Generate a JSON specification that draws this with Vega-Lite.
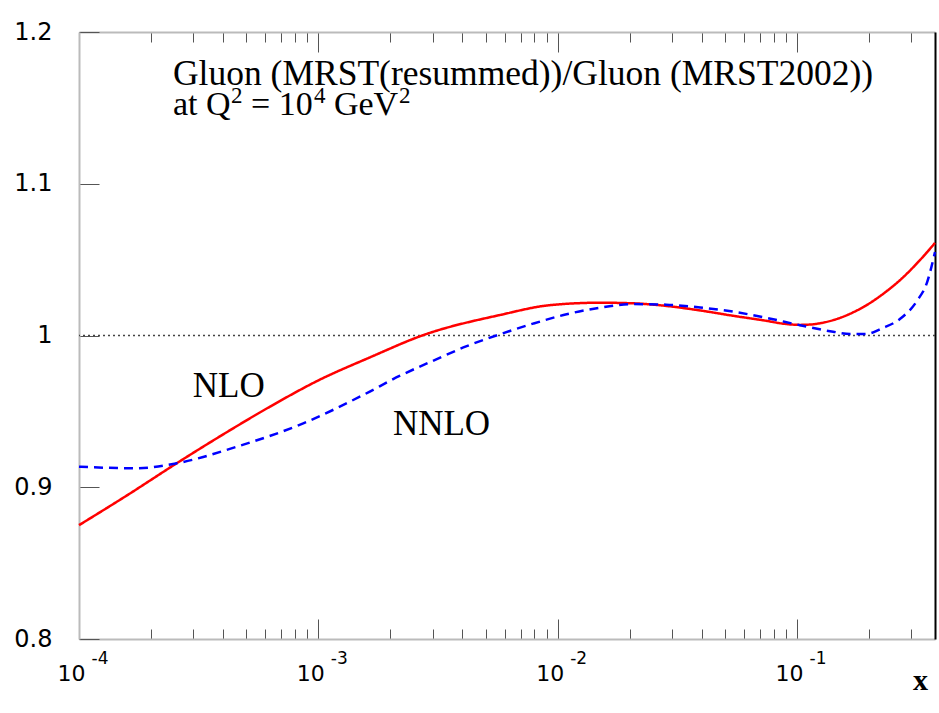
{
  "$schema": "https://vega.github.io/schema/vega-lite/v6.json",
  "width": 856,
  "height": 607,
  "autosize": {"type": "none"},
  "padding": {"left": 79, "top": 32, "right": 4, "bottom": 74},
  "background": "white",
  "config": {"view": {"stroke": null}},
  "datasets": {
    "curves": [
      {"series": "NLO", "xv": 0.0001, "ratio": 0.875},
      {"series": "NLO", "xv": 0.00016, "ratio": 0.895},
      {"series": "NLO", "xv": 0.000256, "ratio": 0.9158},
      {"series": "NLO", "xv": 0.0004, "ratio": 0.9348},
      {"series": "NLO", "xv": 0.000628, "ratio": 0.9531},
      {"series": "NLO", "xv": 0.001, "ratio": 0.9704},
      {"series": "NLO", "xv": 0.001644, "ratio": 0.9856},
      {"series": "NLO", "xv": 0.00275, "ratio": 1.0003},
      {"series": "NLO", "xv": 0.00574, "ratio": 1.0135},
      {"series": "NLO", "xv": 0.00929, "ratio": 1.020},
      {"series": "NLO", "xv": 0.015, "ratio": 1.0216},
      {"series": "NLO", "xv": 0.0207, "ratio": 1.0212},
      {"series": "NLO", "xv": 0.0284, "ratio": 1.0195},
      {"series": "NLO", "xv": 0.0394, "ratio": 1.0165},
      {"series": "NLO", "xv": 0.0541, "ratio": 1.0130},
      {"series": "NLO", "xv": 0.0743, "ratio": 1.0097},
      {"series": "NLO", "xv": 0.0876, "ratio": 1.0078},
      {"series": "NLO", "xv": 0.103, "ratio": 1.0070},
      {"series": "NLO", "xv": 0.113, "ratio": 1.0072},
      {"series": "NLO", "xv": 0.125, "ratio": 1.0081},
      {"series": "NLO", "xv": 0.1416, "ratio": 1.0101},
      {"series": "NLO", "xv": 0.1714, "ratio": 1.0152},
      {"series": "NLO", "xv": 0.1963, "ratio": 1.0202},
      {"series": "NLO", "xv": 0.237, "ratio": 1.0292},
      {"series": "NLO", "xv": 0.27, "ratio": 1.0366},
      {"series": "NLO", "xv": 0.3266, "ratio": 1.0497},
      {"series": "NLO", "xv": 0.3774, "ratio": 1.061},
      {"series": "NNLO", "xv": 0.0001, "ratio": 0.9135},
      {"series": "NNLO", "xv": 0.000174, "ratio": 0.9125},
      {"series": "NNLO", "xv": 0.000256, "ratio": 0.9158},
      {"series": "NNLO", "xv": 0.000456, "ratio": 0.9267},
      {"series": "NNLO", "xv": 0.000865, "ratio": 0.9421},
      {"series": "NNLO", "xv": 0.00154, "ratio": 0.9608},
      {"series": "NNLO", "xv": 0.002195, "ratio": 0.9735},
      {"series": "NNLO", "xv": 0.00303, "ratio": 0.9835},
      {"series": "NNLO", "xv": 0.004143, "ratio": 0.9928},
      {"series": "NNLO", "xv": 0.00574, "ratio": 1.0008},
      {"series": "NNLO", "xv": 0.00789, "ratio": 1.0078},
      {"series": "NNLO", "xv": 0.0109, "ratio": 1.0140},
      {"series": "NNLO", "xv": 0.01503, "ratio": 1.0183},
      {"series": "NNLO", "xv": 0.0207, "ratio": 1.0207},
      {"series": "NNLO", "xv": 0.0284, "ratio": 1.0203},
      {"series": "NNLO", "xv": 0.0394, "ratio": 1.0185},
      {"series": "NNLO", "xv": 0.0541, "ratio": 1.0157},
      {"series": "NNLO", "xv": 0.0743, "ratio": 1.0117},
      {"series": "NNLO", "xv": 0.103, "ratio": 1.0068},
      {"series": "NNLO", "xv": 0.1416, "ratio": 1.0025},
      {"series": "NNLO", "xv": 0.1667, "ratio": 1.0010},
      {"series": "NNLO", "xv": 0.1937, "ratio": 1.0010},
      {"series": "NNLO", "xv": 0.229, "ratio": 1.0050},
      {"series": "NNLO", "xv": 0.27, "ratio": 1.0110},
      {"series": "NNLO", "xv": 0.318, "ratio": 1.0230},
      {"series": "NNLO", "xv": 0.3497, "ratio": 1.0350},
      {"series": "NNLO", "xv": 0.3774, "ratio": 1.055}
    ],
    "decades": [
      {"xv": 0.0001, "e": "-4"},
      {"xv": 0.001, "e": "-3"},
      {"xv": 0.01, "e": "-2"},
      {"xv": 0.1, "e": "-1"}
    ]
  },
  "resolve": {"axis": {"x": "independent", "y": "independent"}},
  "layer": [
    {
      "data": {"values": [{}]},
      "mark": {"type": "rule", "strokeDash": [2, 3], "color": "#444444", "strokeWidth": 1.5},
      "encoding": {"y": {"datum": 1, "type": "quantitative", "axis": null}}
    },
    {
      "data": {"name": "curves"},
      "mark": {"type": "line", "strokeWidth": 2.5, "interpolate": "monotone"},
      "encoding": {
        "x": {
          "field": "xv", "type": "quantitative",
          "scale": {"type": "log", "domain": [0.0001, 0.3774], "nice": false},
          "axis": {
            "orient": "bottom", "title": null, "grid": false,
            "values": [0.0001, 0.0002, 0.0003, 0.0004, 0.0005, 0.0006, 0.0007, 0.0008, 0.0009, 0.001, 0.002, 0.003, 0.004, 0.005, 0.006, 0.007, 0.008, 0.009, 0.01, 0.02, 0.03, 0.04, 0.05, 0.06, 0.07, 0.08, 0.09, 0.1, 0.2, 0.3],
            "labelExpr": "indexof([0.0001, 0.001, 0.01, 0.1], datum.value) >= 0 ? '10' : ''",
            "tickSize": {"condition": {"test": "indexof([0.0001, 0.001, 0.01, 0.1], datum.value) >= 0", "value": -20}, "value": -10},
            "tickColor": "#555555", "tickWidth": 1,
            "domainColor": "#bbbbbb", "domainWidth": 2,
            "labelFont": "DejaVu Sans", "labelFontSize": 22, "labelColor": "black",
            "labelPadding": 44, "labelOffset": -8, "labelFlush": false, "labelOverlap": false
          }
        },
        "y": {
          "field": "ratio", "type": "quantitative",
          "scale": {"domain": [0.8, 1.2], "nice": false, "zero": false},
          "axis": {
            "orient": "left", "title": null, "grid": false,
            "values": [0.8, 0.9, 1.0, 1.1, 1.2],
            "format": ".1~f",
            "tickSize": -20, "tickColor": "#555555", "tickWidth": 1,
            "domainColor": "#bbbbbb", "domainWidth": 2,
            "labelFont": "DejaVu Sans", "labelFontSize": 24, "labelColor": "black",
            "labelPadding": 47, "labelFlush": false, "labelOverlap": false
          }
        },
        "color": {"field": "series", "type": "nominal", "scale": {"domain": ["NLO", "NNLO"], "range": ["#ff0000", "#0000ff"]}, "legend": null},
        "strokeDash": {"field": "series", "type": "nominal", "scale": {"domain": ["NLO", "NNLO"], "range": [[1, 0], [9, 6]]}, "legend": null}
      }
    },
    {
      "data": {"name": "decades"},
      "mark": {"type": "text", "font": "DejaVu Sans", "fontSize": 17, "align": "center", "baseline": "middle", "dx": 21, "dy": 20, "color": "black"},
      "encoding": {
        "x": {
          "field": "xv", "type": "quantitative",
          "axis": {
            "orient": "top", "title": null, "grid": false, "labels": false,
            "values": [0.0001, 0.0002, 0.0003, 0.0004, 0.0005, 0.0006, 0.0007, 0.0008, 0.0009, 0.001, 0.002, 0.003, 0.004, 0.005, 0.006, 0.007, 0.008, 0.009, 0.01, 0.02, 0.03, 0.04, 0.05, 0.06, 0.07, 0.08, 0.09, 0.1, 0.2, 0.3],
            "tickSize": {"condition": {"test": "indexof([0.0001, 0.001, 0.01, 0.1], datum.value) >= 0", "value": -20}, "value": -10},
            "tickColor": "#555555", "tickWidth": 1,
            "domainColor": "#bbbbbb", "domainWidth": 2
          }
        },
        "y": {
          "datum": 0.8, "type": "quantitative",
          "axis": {"orient": "right", "title": null, "grid": false, "labels": false, "ticks": false, "domainColor": "black", "domainWidth": 2}
        },
        "text": {"field": "e"}
      }
    },
    {
      "data": {"values": [{}]},
      "layer": [
        {"mark": {"type": "text", "font": "Liberation Serif", "fontSize": 35.5, "align": "left", "baseline": "alphabetic", "color": "black", "text": "Gluon (MRST(resummed))/Gluon (MRST2002))"},
         "encoding": {"x": {"datum": 0.000247, "type": "quantitative", "axis": null}, "y": {"datum": 1.1651, "type": "quantitative", "axis": null}}},
        {"mark": {"type": "text", "font": "Liberation Serif", "fontSize": 34, "align": "left", "baseline": "alphabetic", "color": "black", "text": "at Q"},
         "encoding": {"x": {"datum": 0.000247, "type": "quantitative", "axis": null}, "y": {"datum": 1.1453, "type": "quantitative", "axis": null}}},
        {"mark": {"type": "text", "font": "Liberation Serif", "fontSize": 23, "align": "left", "baseline": "alphabetic", "color": "black", "text": "2", "dx": 58, "dy": -12},
         "encoding": {"x": {"datum": 0.000247, "type": "quantitative", "axis": null}, "y": {"datum": 1.1453, "type": "quantitative", "axis": null}}},
        {"mark": {"type": "text", "font": "Liberation Serif", "fontSize": 34, "align": "left", "baseline": "alphabetic", "color": "black", "text": "= 10", "dx": 78},
         "encoding": {"x": {"datum": 0.000247, "type": "quantitative", "axis": null}, "y": {"datum": 1.1453, "type": "quantitative", "axis": null}}},
        {"mark": {"type": "text", "font": "Liberation Serif", "fontSize": 23, "align": "left", "baseline": "alphabetic", "color": "black", "text": "4", "dx": 141, "dy": -12},
         "encoding": {"x": {"datum": 0.000247, "type": "quantitative", "axis": null}, "y": {"datum": 1.1453, "type": "quantitative", "axis": null}}},
        {"mark": {"type": "text", "font": "Liberation Serif", "fontSize": 34, "align": "left", "baseline": "alphabetic", "color": "black", "text": "GeV", "dx": 161},
         "encoding": {"x": {"datum": 0.000247, "type": "quantitative", "axis": null}, "y": {"datum": 1.1453, "type": "quantitative", "axis": null}}},
        {"mark": {"type": "text", "font": "Liberation Serif", "fontSize": 23, "align": "left", "baseline": "alphabetic", "color": "black", "text": "2", "dx": 226, "dy": -12},
         "encoding": {"x": {"datum": 0.000247, "type": "quantitative", "axis": null}, "y": {"datum": 1.1453, "type": "quantitative", "axis": null}}},
        {"mark": {"type": "text", "font": "Liberation Serif", "fontSize": 35, "align": "left", "baseline": "alphabetic", "color": "black", "text": "NLO"},
         "encoding": {"x": {"datum": 0.000299, "type": "quantitative", "axis": null}, "y": {"datum": 0.9595, "type": "quantitative", "axis": null}}},
        {"mark": {"type": "text", "font": "Liberation Serif", "fontSize": 35, "align": "left", "baseline": "alphabetic", "color": "black", "text": "NNLO"},
         "encoding": {"x": {"datum": 0.00205, "type": "quantitative", "axis": null}, "y": {"datum": 0.9344, "type": "quantitative", "axis": null}}},
        {"mark": {"type": "text", "font": "Liberation Serif", "fontSize": 30, "fontWeight": "bold", "align": "right", "baseline": "alphabetic", "color": "black", "text": "x", "dx": -7, "dy": 51},
         "encoding": {"x": {"datum": 0.3774, "type": "quantitative", "axis": null}, "y": {"datum": 0.8, "type": "quantitative", "axis": null}}}
      ]
    }
  ]
}
